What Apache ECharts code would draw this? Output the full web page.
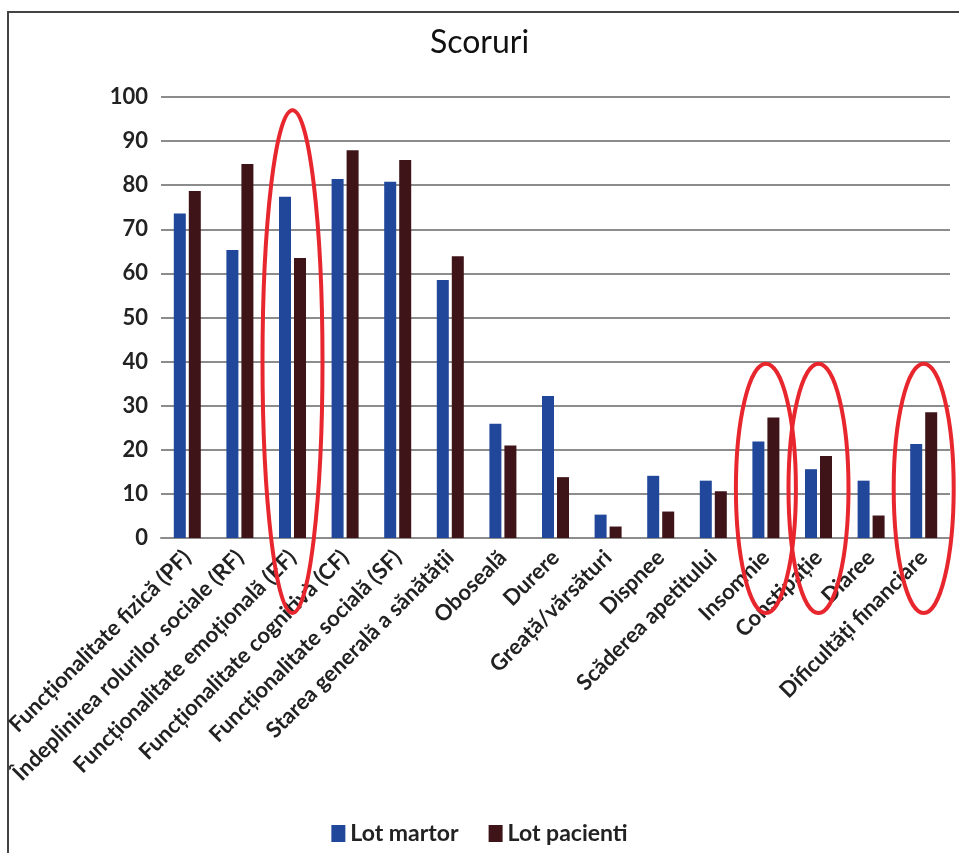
<!DOCTYPE html>
<html>
<head>
<meta charset="utf-8">
<script src="https://cdn.jsdelivr.net/npm/echarts@6/dist/echarts.min.js"></script>
<style>
  html, body { margin: 0; padding: 0; background: #fff; }
  #frame { position: absolute; left: 7px; top: 11px; width: 952px; height: 842px;
           border-left: 2px solid #444; border-top: 2px solid #444; }
  #chart { position: absolute; left: 0; top: 0; width: 959px; height: 853px; }
</style>
</head>
<body>
<div id="frame"></div>
<div id="chart"></div>
<script>
// categorii
var categories = [
  'Funcționalitate fizică (PF)',
  'Îndeplinirea rolurilor sociale (RF)',
  'Funcționalitate emoțională (EF)',
  'Funcționalitate cognitivă (CF)',
  'Funcționalitate socială (SF)',
  'Starea generală a sănătății',
  'Oboseală',
  'Durere',
  'Greață/vărsături',
  'Dispnee',
  'Scăderea apetitului',
  'Insomnie',
  'Constipație',
  'Diaree',
  'Dificultăți financiare'
];
var seriesNames = ['Lot martor', 'Lot pacienti'];
var lotMartor = [73.6, 65.3, 77.4, 81.4, 80.8, 58.5, 25.9, 32.2, 5.3, 14.1, 13.0, 21.9, 15.6, 13.0, 21.3];
var lotPacienti = [78.7, 84.8, 63.5, 87.9, 85.7, 63.9, 21.0, 13.8, 2.6, 6.0, 10.6, 27.3, 18.6, 5.1, 28.5];
var yTicks = [0, 10, 20, 30, 40, 50, 60, 70, 80, 90, 100];

// categoriile incercuite (top al elipsei, in valori)
var circled = [
  ['Funcționalitate emoțională (EF)', 97],
  ['Insomnie', 39.5],
  ['Constipație', 39.5],
  ['Dificultăți financiare', 39.5]
];

var textFont = 'Lato, "Open Sans", sans-serif';

var myChart = echarts.init(document.getElementById('chart'));

var option = {
  animation: false,
  backgroundColor: 'transparent',
  title: {
    text: 'Scoruri',
    left: 'center',
    top: 22,
    textStyle: { fontFamily: textFont, fontSize: 32, fontWeight: 'normal', color: '#111' }
  },
  legend: {
    data: seriesNames,
    bottom: 3,
    left: 'center',
    itemWidth: 14,
    itemHeight: 17,
    itemGap: 30,
    icon: 'rect',
    textStyle: { fontFamily: textFont, fontSize: 23, fontWeight: 'bold', color: '#222' }
  },
  grid: { left: 161, right: 9, top: 97, bottom: 315, containLabel: false },
  xAxis: {
    type: 'category',
    data: categories,
    axisLine: { lineStyle: { color: '#8c8c8c', width: 2 } },
    axisTick: { show: false },
    axisLabel: {
      interval: 0,
      rotate: 45,
      margin: 16,
      fontFamily: textFont,
      fontSize: 22,
      fontWeight: 'bold',
      color: '#222'
    }
  },
  yAxis: {
    type: 'value',
    min: yTicks[0],
    max: yTicks[yTicks.length - 1],
    interval: 10,
    axisLine: { show: false },
    axisTick: { show: false },
    splitLine: { lineStyle: { color: '#8c8c8c', width: 2 } },
    axisLabel: {
      margin: 13,
      fontFamily: textFont,
      fontSize: 22,
      fontWeight: 'bold',
      color: '#222'
    }
  },
  series: [
    {
      name: seriesNames[0],
      type: 'bar',
      data: lotMartor,
      barWidth: 12,
      barGap: '25%',
      itemStyle: { color: '#21479b' }
    },
    {
      name: seriesNames[1],
      type: 'bar',
      data: lotPacienti,
      barWidth: 12,
      itemStyle: { color: '#3f1418' }
    },
    {
      // elipsele rosii
      type: 'custom',
      silent: true,
      z: 10,
      clip: false,
      data: circled,
      encode: { x: 0, y: 1 },
      renderItem: function (params, api) {
        var top = api.coord([api.value(0), api.value(1)]);
        var base = api.coord([api.value(0), 0]);
        var bottom = base[1] + 75;
        return {
          type: 'ellipse',
          shape: {
            cx: top[0],
            cy: (top[1] + bottom) / 2,
            rx: 30,
            ry: (bottom - top[1]) / 2
          },
          style: { fill: null, stroke: '#e8262d', lineWidth: 4 }
        };
      }
    }
  ]
};

myChart.setOption(option);
</script>
</body>
</html>
